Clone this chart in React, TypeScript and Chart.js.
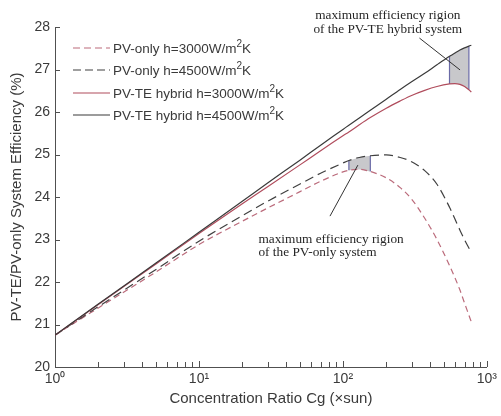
import { useEffect, useRef } from 'react';
import { Chart, registerables } from 'chart.js';

Chart.register(...registerables);

// ---------- data ----------
const concentration = [1, 2, 5, 10, 20, 30, 50, 70, 100, 110, 130, 155, 200, 250, 300, 370, 450, 550, 600, 650, 700, 750, 780];
const pvte4500 = [20.75, 21.48, 22.44, 23.17, 23.9, 24.33, 24.86, 25.22, 25.59, 25.69, 25.86, 26.04, 26.3, 26.53, 26.71, 26.91, 27.11, 27.31, 27.39, 27.46, 27.51, 27.55, 27.57];
const pvte3000 = [20.75, 21.47, 22.42, 23.14, 23.84, 24.24, 24.75, 25.09, 25.44, 25.53, 25.7, 25.87, 26.09, 26.26, 26.39, 26.51, 26.6, 26.66, 26.67, 26.65, 26.6, 26.52, 26.47];
const pvOnly4500 = [20.75, 21.42, 22.29, 22.96, 23.56, 23.9, 24.3, 24.56, 24.8, 24.86, 24.93, 24.97, 24.99, 24.93, 24.83, 24.62, 24.3, 23.76, 23.48, 23.22, 22.99, 22.8, 22.7];
const pvOnly3000 = [20.75, 21.39, 22.23, 22.88, 23.43, 23.74, 24.12, 24.37, 24.59, 24.63, 24.65, 24.6, 24.45, 24.22, 23.95, 23.5, 23.0, 22.39, 22.1, 21.81, 21.5, 21.22, 21.06];

const pvteBoxRange = [550, 750];
const pvOnlyBoxRange = [110, 155];

const yTickValues = [20, 21, 22, 23, 24, 25, 26, 27, 28];
const xTickLabels: Record<number, string> = { 1: '10⁰', 10: '10¹', 100: '10²', 1000: '10³' };

const legendLabels = ['PV-only h=3000W/m', 'PV-only h=4500W/m', 'PV-TE hybrid h=3000W/m', 'PV-TE hybrid h=4500W/m'];

const annotationPVTE = ['maximum efficiency rigion', 'of the PV-TE hybrid system'];
const annotationPVOnly = ['maximum efficiency rigion', 'of the PV-only system'];
// annotation anchors in data units [Cg, efficiency]
const annPVTEText = [205, 28.28, 27.93];
const annPVTELine = [[340, 27.74], [651, 26.99]];
const annPVOnlyText = [25.9, 23.01, 22.7];
const annPVOnlyLine = [[81.3, 23.55], [127, 24.75]];

// ---------- styles ----------
const SANS = '"Liberation Sans", Arial, sans-serif';
const SERIF = '"Liberation Serif", "Times New Roman", serif';
const TEXT = '#3a3a3a';
const AXIS = '#505050';
const BLACK = '#3a3a3a';
const RED = '#b04c5c';
const RED_DASH = '#bb6b7b';
const BLACK_DASH = '#404040';
const FILL = 'rgba(200,200,203,1)';
const EDGE = '#6a6aa6';

const pts = (ys: number[]) => concentration.map((c, i) => ({ x: c, y: ys[i] }));
const slice = (ys: number[], r: number[]) =>
  concentration.map((c, i) => ({ x: c, y: ys[i] })).filter((p) => p.x >= r[0] && p.x <= r[1]);
const edge = (lo: number[], hi: number[], c: number) => {
  const i = concentration.indexOf(c);
  return [{ x: c, y: lo[i] }, { x: c, y: hi[i] }];
};

const inwardTicks = {
  id: 'inwardTicks',
  afterDatasetsDraw(chart: any) {
    const { ctx, chartArea, scales } = chart;
    ctx.save();
    ctx.strokeStyle = AXIS;
    ctx.lineWidth = 1;
    scales.x.ticks.forEach((t: any) => {
      const px = Math.round(scales.x.getPixelForValue(t.value)) + 0.5;
      const len = xTickLabels[t.value] ? 6 : 5;
      ctx.beginPath();
      ctx.moveTo(px, chartArea.bottom);
      ctx.lineTo(px, chartArea.bottom - len);
      ctx.stroke();
    });
    scales.y.ticks.forEach((t: any) => {
      const py = Math.round(scales.y.getPixelForValue(t.value)) + 0.5;
      ctx.beginPath();
      ctx.moveTo(chartArea.left, py);
      ctx.lineTo(chartArea.left + 5, py);
      ctx.stroke();
    });
    ctx.restore();
  },
};

const legendAndNotes = {
  id: 'legendAndNotes',
  afterDraw(chart: any) {
    const { ctx, chartArea, scales } = chart;
    const x = scales.x;
    const y = scales.y;
    ctx.save();
    // legend
    const styles = [
      { color: RED_DASH, dash: [7, 4] },
      { color: BLACK_DASH, dash: [8, 4] },
      { color: RED, dash: [] },
      { color: BLACK, dash: [] },
    ];
    const rowY = [48, 70, 93, 115];
    legendLabels.forEach((label, i) => {
      const yy = rowY[i];
      ctx.strokeStyle = styles[i].color;
      ctx.lineWidth = 1.2;
      ctx.setLineDash(styles[i].dash);
      ctx.beginPath();
      ctx.moveTo(chartArea.left + 18, yy);
      ctx.lineTo(chartArea.left + 55, yy);
      ctx.stroke();
      ctx.setLineDash([]);
      ctx.fillStyle = TEXT;
      ctx.textBaseline = 'middle';
      ctx.textAlign = 'left';
      ctx.font = `13.5px ${SANS}`;
      const tx = chartArea.left + 58;
      ctx.fillText(label, tx, yy + 1);
      let w = ctx.measureText(label).width;
      ctx.font = `10px ${SANS}`;
      ctx.fillText('2', tx + w, yy - 4);
      w += ctx.measureText('2').width;
      ctx.font = `13.5px ${SANS}`;
      ctx.fillText('K', tx + w, yy + 1);
    });

    // annotations
    ctx.fillStyle = '#262626';
    ctx.font = `13.3px ${SERIF}`;
    ctx.textBaseline = 'middle';
    ctx.textAlign = 'center';
    ctx.fillText(annotationPVTE[0], x.getPixelForValue(annPVTEText[0]), y.getPixelForValue(annPVTEText[1]));
    ctx.fillText(annotationPVTE[1], x.getPixelForValue(annPVTEText[0]), y.getPixelForValue(annPVTEText[2]));
    ctx.textAlign = 'left';
    ctx.fillText(annotationPVOnly[0], x.getPixelForValue(annPVOnlyText[0]), y.getPixelForValue(annPVOnlyText[1]));
    ctx.fillText(annotationPVOnly[1], x.getPixelForValue(annPVOnlyText[0]), y.getPixelForValue(annPVOnlyText[2]));

    ctx.strokeStyle = '#333';
    ctx.lineWidth = 1;
    [annPVTELine, annPVOnlyLine].forEach((ln) => {
      ctx.beginPath();
      ctx.moveTo(x.getPixelForValue(ln[0][0]), y.getPixelForValue(ln[0][1]));
      ctx.lineTo(x.getPixelForValue(ln[1][0]), y.getPixelForValue(ln[1][1]));
      ctx.stroke();
    });
    ctx.restore();
  },
};

export default function App() {
  const ref = useRef<HTMLCanvasElement | null>(null);

  useEffect(() => {
    document.body.style.margin = '0';
    if (!ref.current) return;
    const line = (data: any, color: string, dash: number[], order = 0) => ({
      data,
      borderColor: color,
      borderWidth: 1.2,
      borderDash: dash,
      pointRadius: 0,
      fill: false,
      cubicInterpolationMode: 'monotone' as const,
      order,
    });
    const chart = new Chart(ref.current, {
      type: 'line',
      data: {
        datasets: [
          line(pts(pvte4500), BLACK, []), // 0
          line(pts(pvte3000), RED, []), // 1
          line(pts(pvOnly4500), BLACK_DASH, [9, 5]), // 2
          line(pts(pvOnly3000), RED_DASH, [6, 4]), // 3
          // PV-TE shaded box
          { ...line(slice(pvte4500, pvteBoxRange), 'rgba(0,0,0,0)', [], 10), borderWidth: 0 }, // 4
          { ...line(slice(pvte3000, pvteBoxRange), 'rgba(0,0,0,0)', [], 10), borderWidth: 0, fill: 4, backgroundColor: FILL }, // 5
          // PV-only shaded box
          { ...line(slice(pvOnly4500, pvOnlyBoxRange), 'rgba(0,0,0,0)', [], 10), borderWidth: 0 }, // 6
          { ...line(slice(pvOnly3000, pvOnlyBoxRange), 'rgba(0,0,0,0)', [], 10), borderWidth: 0, fill: 6, backgroundColor: FILL }, // 7
          // box edges
          line(edge(pvte3000, pvte4500, pvteBoxRange[0]), EDGE, [], 1),
          line(edge(pvte3000, pvte4500, pvteBoxRange[1]), EDGE, [], 1),
          line(edge(pvOnly3000, pvOnly4500, pvOnlyBoxRange[0]), EDGE, [], 1),
          line(edge(pvOnly3000, pvOnly4500, pvOnlyBoxRange[1]), EDGE, [], 1),
        ],
      },
      options: {
        animation: false,
        responsive: true,
        maintainAspectRatio: false,
        layout: { padding: { left: 0, top: 27, right: 12, bottom: 0 } },
        plugins: { legend: { display: false }, tooltip: { enabled: false } },
        scales: {
          x: {
            type: 'logarithmic',
            min: 1,
            max: 1000,
            grid: { display: false, drawTicks: false },
            border: { display: true, color: AXIS, width: 1 },
            afterBuildTicks: (s: any) => {
              const t: any[] = [];
              [1, 10, 100].forEach((d) => {
                for (let k = 1; k < 10; k++) t.push({ value: d * k });
              });
              t.push({ value: 1000 });
              s.ticks = t;
            },
            ticks: {
              autoSkip: false,
              maxRotation: 0,
              padding: 4,
              color: TEXT,
              font: { family: SANS, size: 14 },
              callback: (v: any) => xTickLabels[Number(v)] ?? '',
            },
            title: {
              display: true,
              text: 'Concentration Ratio Cg (×sun)',
              color: TEXT,
              font: { family: SANS, size: 15 },
              padding: { top: 0, bottom: 8 },
            },
            afterFit: (s: any) => {
              s.height = 49;
            },
          },
          y: {
            min: 20,
            max: 28,
            grid: { display: false, drawTicks: false },
            border: { display: true, color: AXIS, width: 1 },
            afterBuildTicks: (s: any) => {
              s.ticks = yTickValues.map((v) => ({ value: v }));
            },
            ticks: {
              padding: 5,
              color: TEXT,
              font: { family: SANS, size: 14 },
            },
            title: {
              display: true,
              text: 'PV-TE/PV-only System Efficiency (%)',
              color: TEXT,
              font: { family: SANS, size: 15 },
              padding: { top: 8, bottom: 0 },
            },
            afterFit: (s: any) => {
              s.width = 55;
            },
          },
        },
      },
      plugins: [inwardTicks, legendAndNotes],
    });
    return () => chart.destroy();
  }, []);

  return (
    <div style={{ width: 501, height: 416, position: 'relative' }}>
      <canvas ref={ref} />
    </div>
  );
}
